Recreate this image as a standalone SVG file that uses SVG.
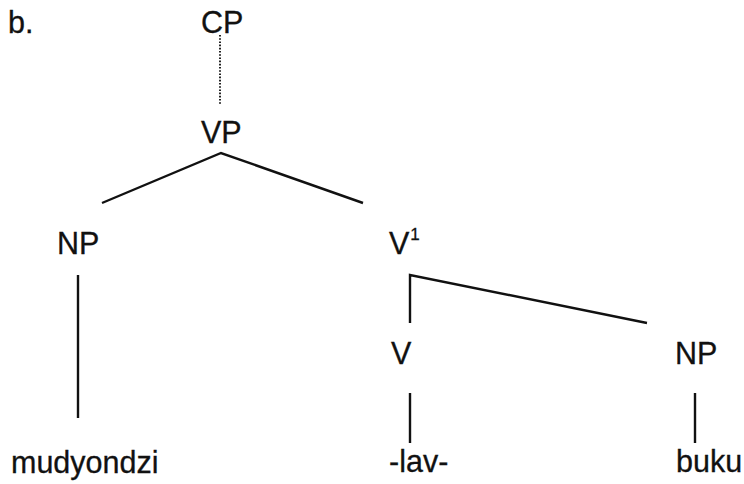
<svg xmlns="http://www.w3.org/2000/svg" width="744" height="484" viewBox="0 0 744 484">
<style>
text{font-family:"Liberation Sans",Arial,sans-serif;font-size:30.5px;fill:#111;stroke:#111;stroke-width:0.3}
.sup{font-size:17px}
.e{stroke:#111;stroke-width:2.4;fill:none;stroke-linecap:butt}
.d{stroke:#222;stroke-width:2;stroke-dasharray:1.6 1.6;fill:none}
</style>
<rect width="744" height="484" fill="#fff"/>
<text x="8" y="33">b.</text>
<g id="cp"><text x="201" y="33">CP</text></g>
<g id="vp"><text x="201" y="143">VP</text></g>
<g id="np1"><text x="57" y="254">NP</text></g>
<g id="vbar"><text x="389" y="254">V<tspan class="sup" dx="1" dy="-14">1</tspan></text></g>
<g id="v"><text x="391" y="364">V</text></g>
<g id="np2"><text x="675" y="364">NP</text></g>
<g id="w1"><text x="11" y="473">mudyondzi</text></g>
<g id="w2"><text x="389" y="472">-lav-</text></g>
<g id="w3"><text x="676" y="472">buku</text></g>
<g id="edges">
<line class="d" x1="220" y1="35" x2="220" y2="105"/>
<polyline class="e" points="102,203 221,153 363,203"/>
<line class="e" x1="78" y1="275" x2="78" y2="418"/>
<polyline class="e" points="410,323 410,275 647,323"/>
<line class="e" x1="410" y1="393" x2="410" y2="443"/>
<line class="e" x1="695" y1="393" x2="695" y2="443"/>
</g>
</svg>
